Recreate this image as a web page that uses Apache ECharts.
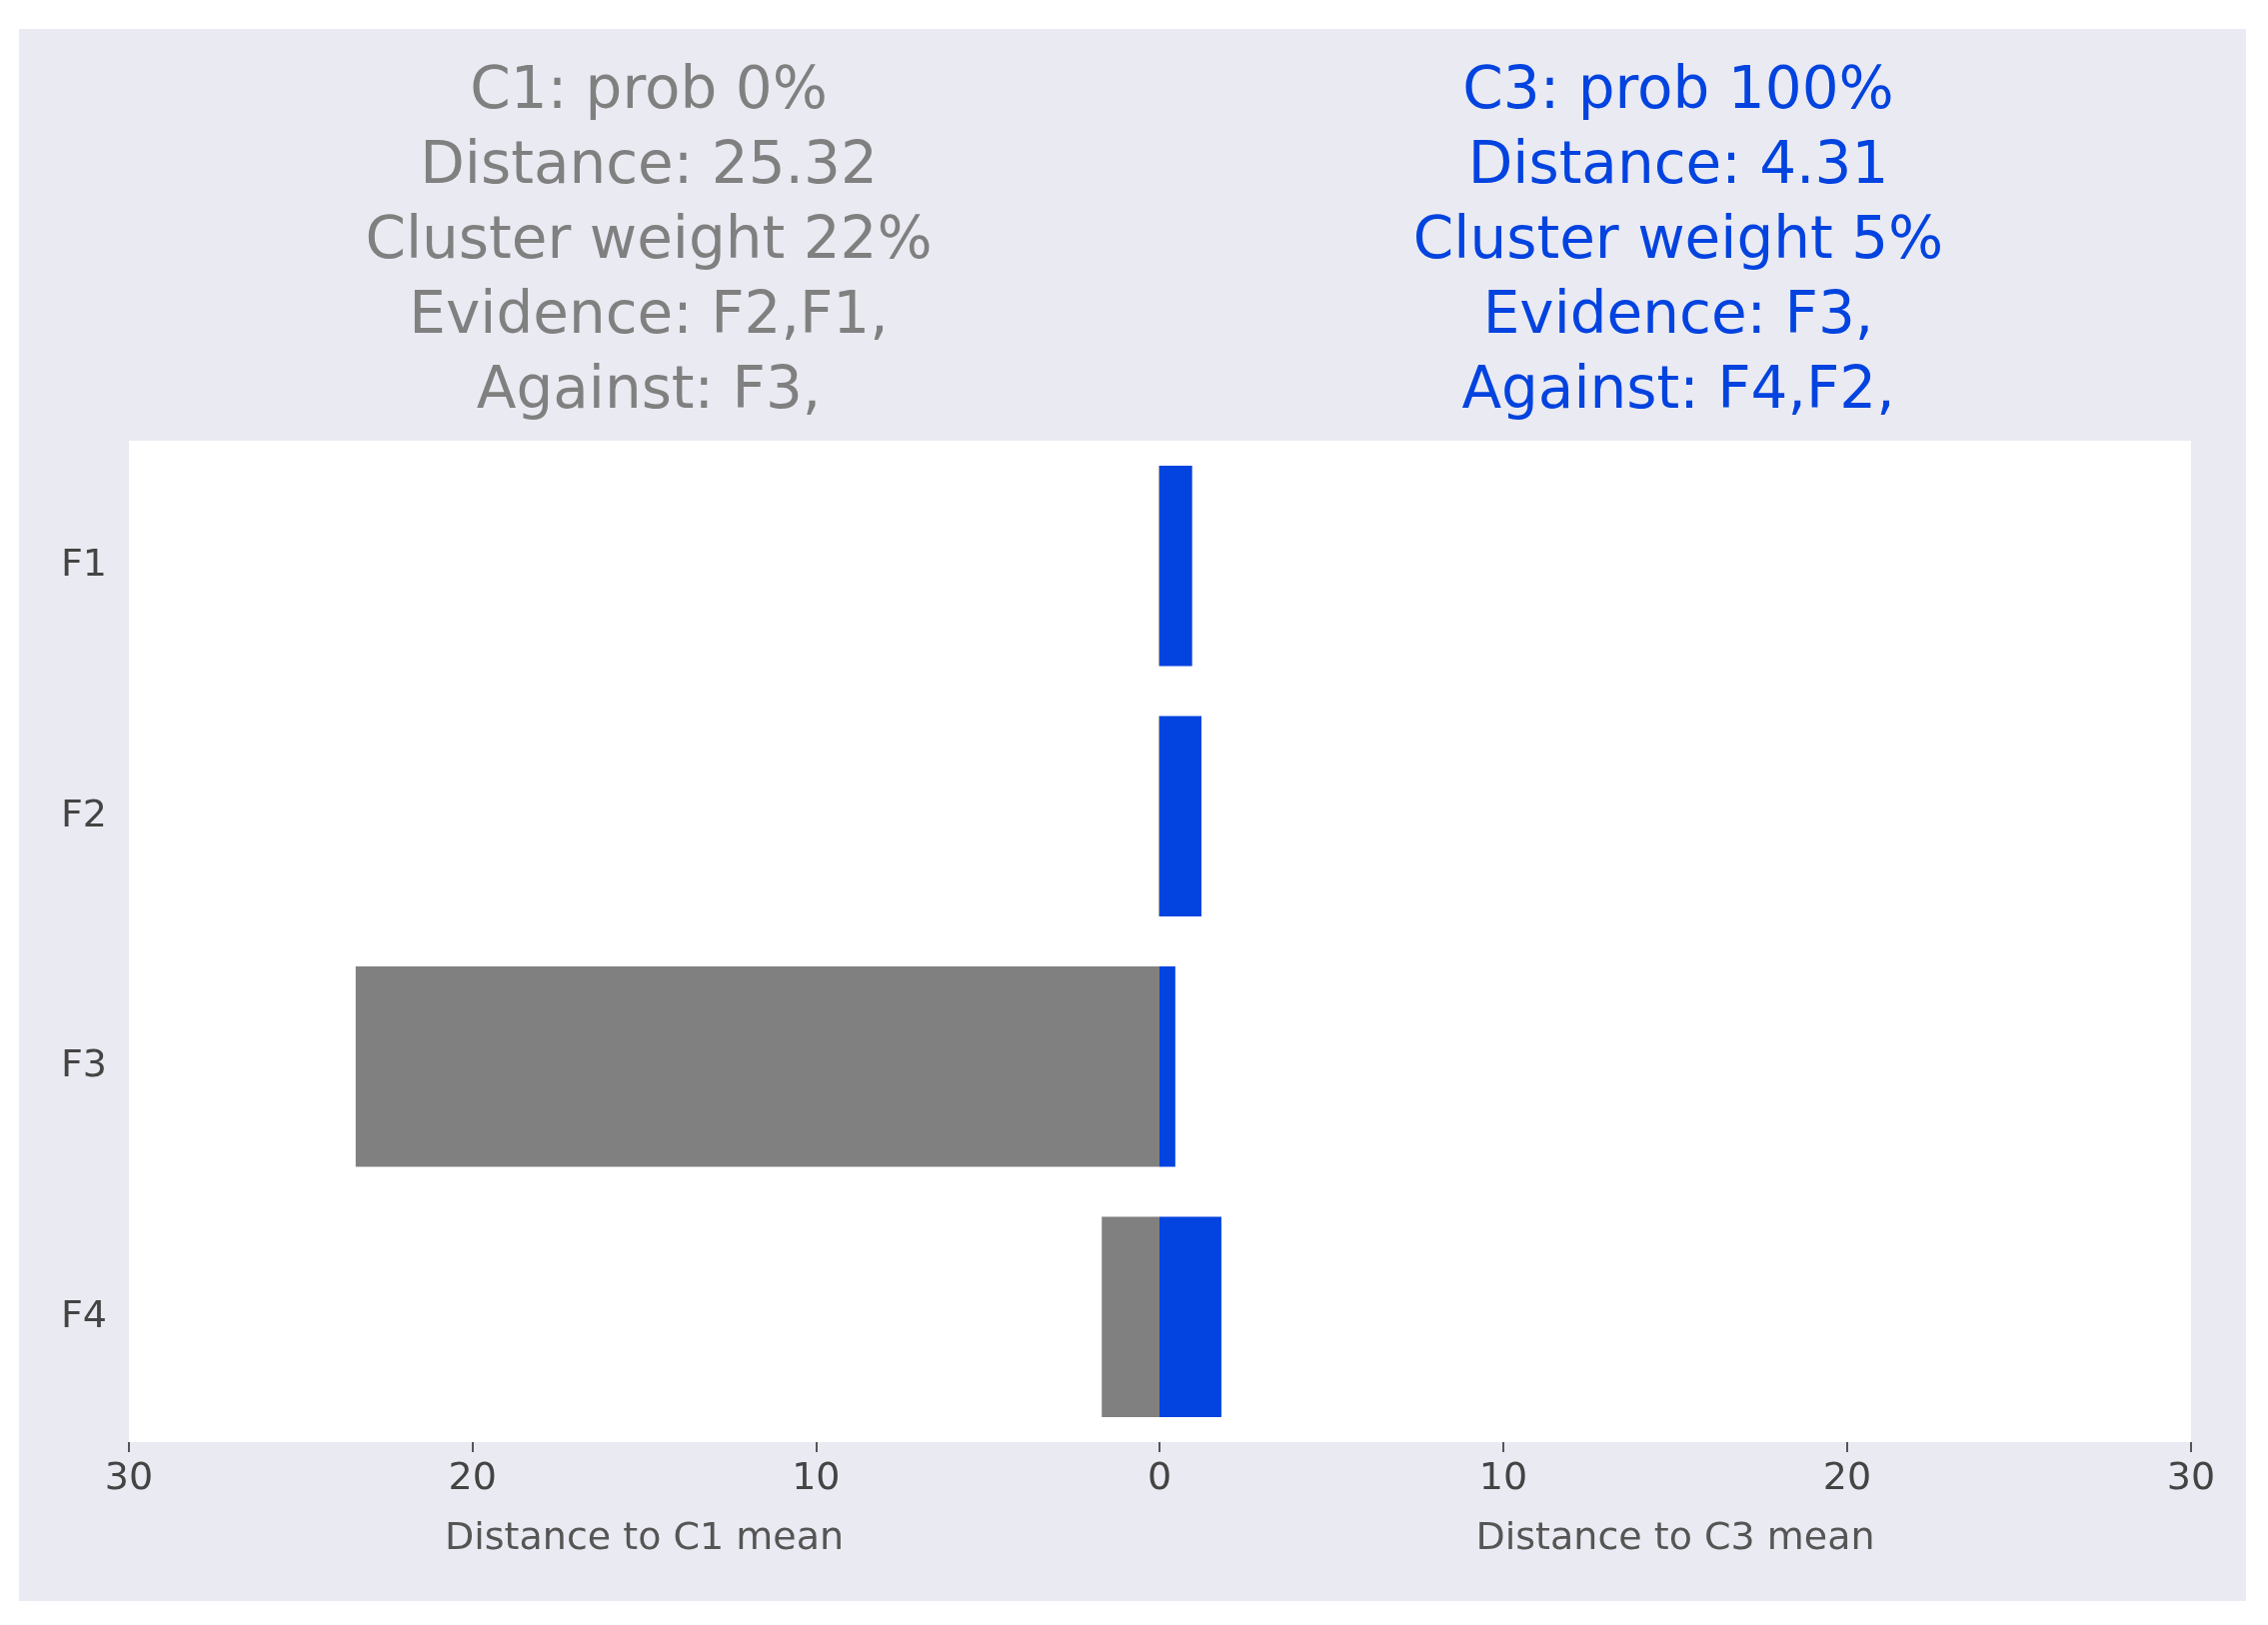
<!DOCTYPE html>
<html>
<head>
<meta charset="UTF-8">
<script src="https://cdn.jsdelivr.net/npm/echarts@6/dist/echarts.min.js"></script>
<style>body{margin:0;background:#fff}</style>
</head>
<body>
<div id="main" style="width:2269px;height:1626px;"></div>
<script>
var features = ['F1', 'F2', 'F3', 'F4'];
var distC1 = [0.02, 0.02, 23.4, 1.68];
var distC3 = [0.95, 1.22, 0.46, 1.8];
var xTicks = [0, 10, 20, 30];
var leftTitle = ['C1: prob 0%', 'Distance: 25.32', 'Cluster weight 22%', 'Evidence: F2,F1,', 'Against: F3,'];
var rightTitle = ['C3: prob 100%', 'Distance: 4.31', 'Cluster weight 5%', 'Evidence: F3,', 'Against: F4,F2,'];

var chart = echarts.init(document.getElementById('main'));
var font = 'DejaVu Sans';
var gridTop = 441, gridBottom = 1626 - 1443;

function xAxis(idx, inverse, name, showZero) {
  return {
    type: 'value', gridIndex: idx, min: 0, max: 30, interval: 10, inverse: inverse,
    name: name, nameLocation: 'middle', nameGap: 78,
    nameTextStyle: { fontFamily: font, fontSize: 38, color: '#555' },
    axisLine: { show: false },
    axisTick: { show: true, length: 10, lineStyle: { color: '#555', width: 2 } },
    splitLine: { show: false },
    axisLabel: {
      fontFamily: font, fontSize: 38, color: '#444', margin: 18,
      formatter: function (v) { return (v === 0 && !showZero) ? '' : String(v); }
    }
  };
}
function yAxis(idx, showLabels) {
  return {
    type: 'category', gridIndex: idx, data: features, inverse: true,
    axisLine: { show: false },
    axisTick: { show: !showLabels ? false : true, length: 10, alignWithLabel: true, lineStyle: { color: '#fff', width: 2 } },
    axisLabel: { show: showLabels, fontFamily: font, fontSize: 38, color: '#444', margin: 22 },
    splitLine: { show: false }
  };
}

chart.setOption({
  backgroundColor: '#ffffff',
  animation: false,
  graphic: [{ type: 'rect', z: -10, shape: { x: 19, y: 29, width: 2228, height: 1573 }, style: { fill: '#EAEAF2' } }],
  title: [
    { text: leftTitle.join('\n'), left: 644, top: 50, textAlign: 'center',
      textStyle: { fontFamily: font, fontWeight: 'normal', fontSize: 58, lineHeight: 75, color: '#808080' } },
    { text: rightTitle.join('\n'), left: 1674, top: 50, textAlign: 'center',
      textStyle: { fontFamily: font, fontWeight: 'normal', fontSize: 58, lineHeight: 75, color: '#0343DF' } }
  ],
  grid: [
    { left: 129, width: 1031, top: gridTop, bottom: gridBottom, show: true, backgroundColor: '#fff', borderWidth: 0 },
    { left: 1160, width: 1032, top: gridTop, bottom: gridBottom, show: true, backgroundColor: '#fff', borderWidth: 0 }
  ],
  xAxis: [xAxis(0, true, 'Distance to C1 mean', true), xAxis(1, false, 'Distance to C3 mean', false)],
  yAxis: [yAxis(0, true), yAxis(1, false)],
  series: [
    { type: 'bar', xAxisIndex: 0, yAxisIndex: 0, data: distC1, barWidth: '80%', itemStyle: { color: '#808080' } },
    { type: 'bar', xAxisIndex: 1, yAxisIndex: 1, data: distC3, barWidth: '80%', itemStyle: { color: '#0343DF' } }
  ]
});
</script>
</body>
</html>
